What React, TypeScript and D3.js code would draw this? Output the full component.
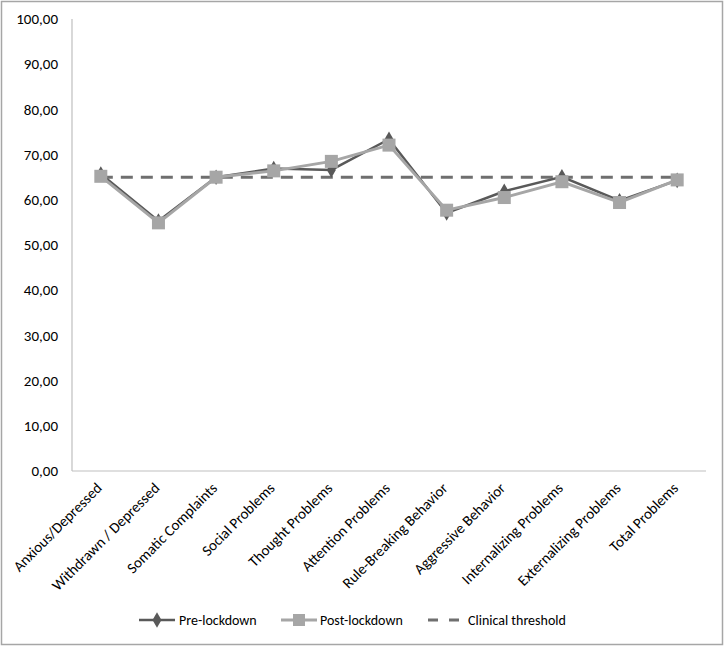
import { useEffect, useRef } from "react";
import * as d3 from "d3";

const categories = [
  "Anxious/Depressed",
  "Withdrawn / Depressed",
  "Somatic Complaints",
  "Social Problems",
  "Thought Problems",
  "Attention Problems",
  "Rule-Breaking Behavior",
  "Aggressive Behavior",
  "Internalizing Problems",
  "Externalizing Problems",
  "Total Problems",
];

const preLockdown = [65.7, 55.3, 65.0, 66.9, 66.6, 73.4, 57.1, 61.9, 65.1, 59.8, 64.3];
const postLockdown = [65.2, 54.9, 65.0, 66.4, 68.5, 72.1, 57.7, 60.5, 64.0, 59.4, 64.4];
const clinicalThreshold = 65;

const yTicks = [0, 10, 20, 30, 40, 50, 60, 70, 80, 90, 100];

const FONT = "Carlito, Lato, 'Open Sans', sans-serif";

export default function App() {
  const svgRef = useRef<SVGSVGElement>(null);

  useEffect(() => {
    if (!svgRef.current) return;
    const svg = d3.select(svgRef.current);
    svg.selectAll("*").remove();

    const W = 725;
    const H = 647;
    const plot = { left: 72, right: 706, top: 19, bottom: 471 };

    // Outer frame
    svg
      .append("rect")
      .attr("x", 1.5)
      .attr("y", 1.5)
      .attr("width", W - 4)
      .attr("height", H - 4)
      .attr("fill", "#fff")
      .attr("stroke", "#a6a6a6")
      .attr("stroke-width", 1.5);

    const x = d3
      .scalePoint<string>()
      .domain(categories)
      .range([plot.left, plot.right])
      .padding(0.5);

    const y = d3.scaleLinear().domain([0, 100]).range([plot.bottom, plot.top]);

    // Axis lines
    svg
      .append("line")
      .attr("x1", plot.left)
      .attr("x2", plot.left)
      .attr("y1", plot.top)
      .attr("y2", plot.bottom)
      .attr("stroke", "#bfbfbf")
      .attr("stroke-width", 1.2);
    svg
      .append("line")
      .attr("x1", plot.left)
      .attr("x2", plot.right)
      .attr("y1", plot.bottom)
      .attr("y2", plot.bottom)
      .attr("stroke", "#bfbfbf")
      .attr("stroke-width", 1.2);

    // Y tick labels
    const fmt = (v: number) => v.toFixed(2).replace(".", ",");
    svg
      .append("g")
      .selectAll("text")
      .data(yTicks)
      .join("text")
      .attr("x", 58)
      .attr("y", (d) => y(d))
      .attr("dy", "0.35em")
      .attr("text-anchor", "end")
      .style("font-family", FONT)
      .style("font-size", "15px")
      .style("fill", "#000")
      .text((d) => fmt(d));

    // X tick labels
    svg
      .append("g")
      .selectAll("text")
      .data(categories)
      .join("text")
      .attr("transform", (d) => `translate(${x(d)! + 2},${plot.bottom + 18}) rotate(-45)`)
      .attr("text-anchor", "end")
      .style("font-family", FONT)
      .style("font-size", "15px")
      .style("fill", "#000")
      .text((d) => d);

    // Threshold
    svg
      .append("line")
      .attr("x1", x(categories[0])!)
      .attr("x2", x(categories[categories.length - 1])!)
      .attr("y1", y(clinicalThreshold))
      .attr("y2", y(clinicalThreshold))
      .attr("stroke", "#6f6f6f")
      .attr("stroke-width", 3)
      .attr("stroke-dasharray", "12,8");

    const line = d3
      .line<number>()
      .x((_, i) => x(categories[i])!)
      .y((d) => y(d));

    // Pre-lockdown
    svg
      .append("path")
      .datum(preLockdown)
      .attr("fill", "none")
      .attr("stroke", "#595959")
      .attr("stroke-width", 2.5)
      .attr("d", line);
    const diamond = d3.symbol().type(d3.symbolDiamond).size(70);
    svg
      .append("g")
      .selectAll("path")
      .data(preLockdown)
      .join("path")
      .attr("transform", (d, i) => `translate(${x(categories[i])},${y(d)})`)
      .attr("d", diamond)
      .attr("fill", "#595959");

    // Post-lockdown
    svg
      .append("path")
      .datum(postLockdown)
      .attr("fill", "none")
      .attr("stroke", "#a6a6a6")
      .attr("stroke-width", 3)
      .attr("d", line);
    const sq = 13;
    svg
      .append("g")
      .selectAll("rect")
      .data(postLockdown)
      .join("rect")
      .attr("x", (_, i) => x(categories[i])! - sq / 2)
      .attr("y", (d) => y(d) - sq / 2)
      .attr("width", sq)
      .attr("height", sq)
      .attr("fill", "#a6a6a6");

    // Legend
    const ly = 620;
    const legend = svg.append("g").style("font-family", FONT).style("font-size", "14px");

    legend
      .append("line")
      .attr("x1", 139)
      .attr("x2", 175)
      .attr("y1", ly)
      .attr("y2", ly)
      .attr("stroke", "#595959")
      .attr("stroke-width", 2.5);
    legend
      .append("path")
      .attr("transform", `translate(157,${ly})`)
      .attr("d", diamond)
      .attr("fill", "#595959");
    legend.append("text").attr("x", 179).attr("y", ly).attr("dy", "0.35em").text("Pre-lockdown");

    legend
      .append("line")
      .attr("x1", 281)
      .attr("x2", 317)
      .attr("y1", ly)
      .attr("y2", ly)
      .attr("stroke", "#a6a6a6")
      .attr("stroke-width", 3);
    legend
      .append("rect")
      .attr("x", 299 - 6)
      .attr("y", ly - 6)
      .attr("width", 12)
      .attr("height", 12)
      .attr("fill", "#a6a6a6");
    legend.append("text").attr("x", 320).attr("y", ly).attr("dy", "0.35em").text("Post-lockdown");

    legend
      .append("line")
      .attr("x1", 428)
      .attr("x2", 464)
      .attr("y1", ly)
      .attr("y2", ly)
      .attr("stroke", "#6f6f6f")
      .attr("stroke-width", 3)
      .attr("stroke-dasharray", "10,11");
    legend.append("text").attr("x", 468).attr("y", ly).attr("dy", "0.35em").text("Clinical threshold");
  }, []);

  return (
    <svg
      ref={svgRef}
      width={725}
      height={647}
      style={{ position: "absolute", left: 0, top: 0, background: "#fff" }}
    />
  );
}
